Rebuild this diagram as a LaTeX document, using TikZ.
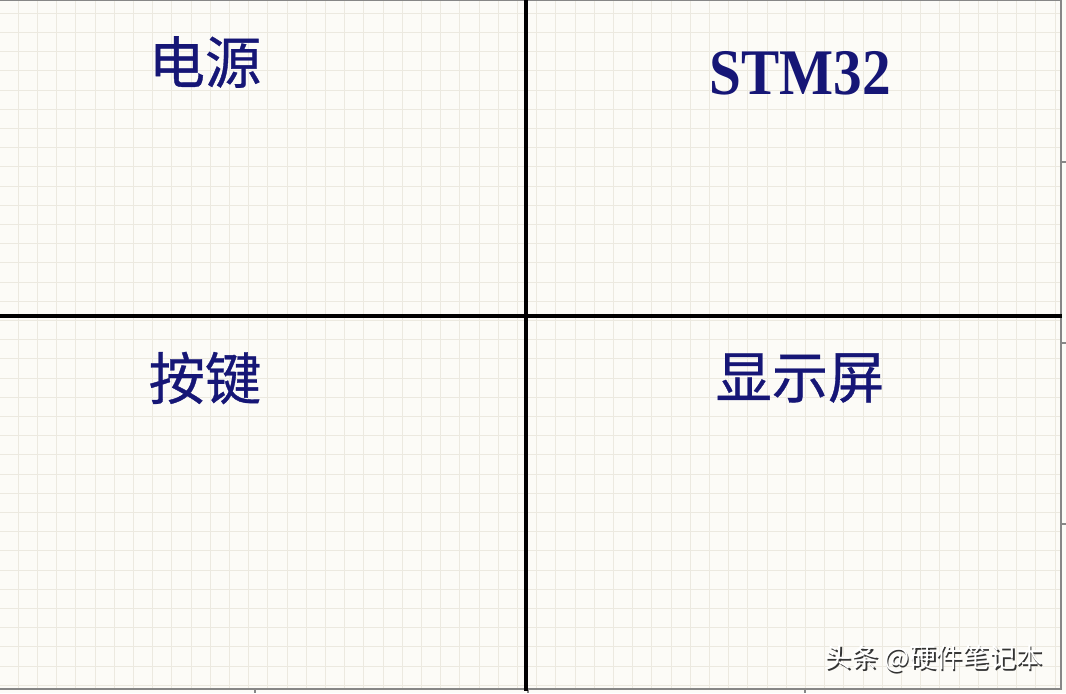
\documentclass[tikz,border=0pt]{standalone}
\usepackage{fontspec}
\setmainfont{Liberation Serif}
\newfontfamily\cjk{Noto Sans CJK SC}[FakeBold=0.6]
\newfontfamily\cjkmark{Noto Sans CJK SC}
\definecolor{paper}{RGB}{252,251,247}
\definecolor{gridc}{RGB}{236,233,224}
\definecolor{edge}{RGB}{135,135,135}
\definecolor{navytxt}{RGB}{22,22,118}
\tikzset{
  label/.style={text=navytxt,inner sep=0pt},
  zh/.style={label,font=\cjk\fontsize{16}{16}\selectfont},
  divider/.style={line width=1.2pt,black},
  marktext/.style={font=\cjkmark\fontsize{7.6}{7.6}\selectfont},
}
\begin{document}
\begin{tikzpicture}[x=0.01cm,y=-0.01cm]

\useasboundingbox (0,0) rectangle (1066,693);
\fill[paper] (0,0) rectangle (1066,693);

% la grille
\foreach \i in {0,...,54} \draw[gridc,line width=0.3pt] (18.3+19.2*\i,0)--(18.3+19.2*\i,689);
\foreach \j in {0,...,35} \draw[gridc,line width=0.3pt] (0,13.3+19.2*\j)--(1061,13.3+19.2*\j);

% le cadre
\draw[edge,line width=0.4pt] (0,0.5)--(1061,0.5);
\draw[edge,line width=0.5pt] (0,689)--(1061,689)--(1061,0);
\foreach \y in {162,343,524} \draw[edge,line width=0.4pt] (1061,\y)--+(5,0);
\foreach \x in {255,528,805} \draw[edge,line width=0.4pt] (\x,689)--+(0,4);

% les quatre zones
\coordinate (top) at (526,0);
\coordinate (bot) at (526,691);
\coordinate (lft) at (0,316);
\coordinate (rgt) at (1062,316);
\draw[divider] (top)--(bot);
\draw[divider] (lft)--(rgt);

\node[zh] (power) at (205,62) {电源};
\node[label,font=\bfseries\fontsize{18.5}{18.5}\selectfont] (mcu) at (800,73) {\scalebox{0.88}[1]{STM32}};
\node[zh] (keys) at (205,378) {按键};
\node[zh] (screen) at (800,378) {显示屏};

% filigrane
\node[marktext,text=black!80] (markshadow) at (935.5,660.5) {头条 @硬件笔记本};
\node[marktext,text=white] (mark) at (934,659) {头条 @硬件笔记本};

\end{tikzpicture}
\end{document}
